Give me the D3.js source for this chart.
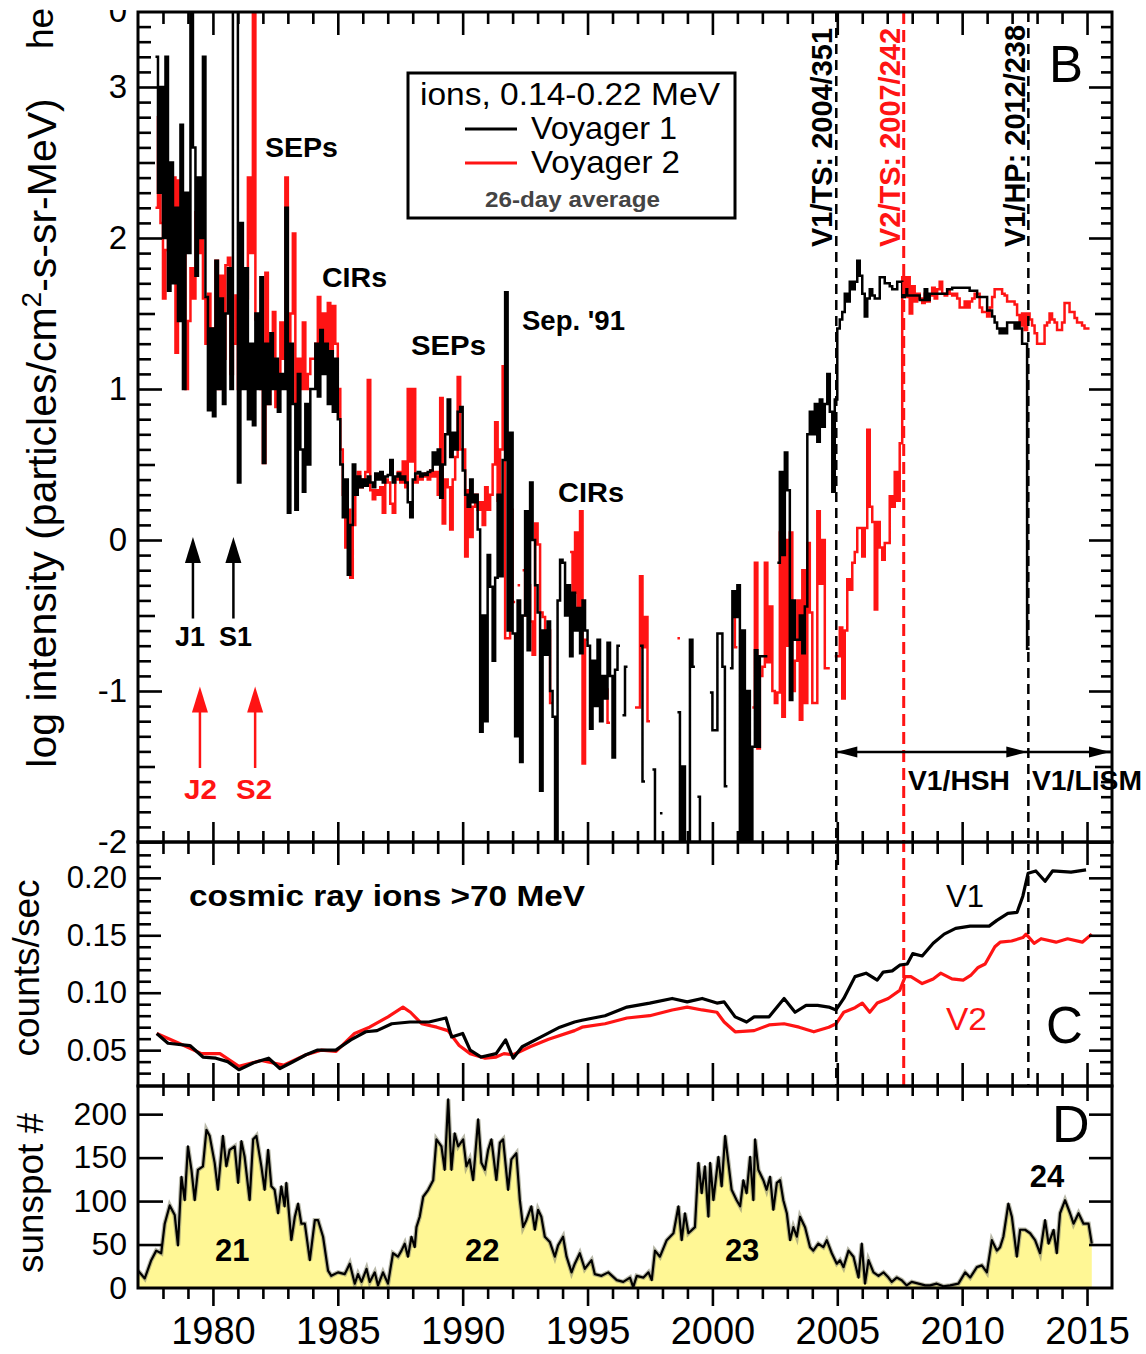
<!DOCTYPE html>
<html>
<head>
<meta charset="utf-8">
<script src="https://cdn.jsdelivr.net/npm/d3@7"></script>
<style>
  body { margin: 0; background: #fff; }
  svg { display: block; font-family: "Liberation Sans", Arial, Helvetica, sans-serif; }
</style>
</head>
<body>
<script>
// ---- panel B: ions 0.14-0.22 MeV, log intensity, 0.1-yr bins starting 1977.7 (null = no data)
var ionStart = 1977.7, ionStep = 0.1;
var ionV1 = [
  3.2, 2.3, 3.0,
  2.0, 3.2, 1.65, 2.5, 1.7, 2.2, 1.45, 2.75, 1.0, 2.3,          // 1978
  1.9, 3.8, 2.6, 1.75, 2.4, 2.0, 3.2, 1.61, 0.86, 1.4,          // 1979
  0.82, 1.85, 1.0, 1.6, 0.9, 1.5, 1.8, 1.0, 3.8, 3.6,           // 1980
  0.38, 2.1, 1.0, 1.8, 0.8, 1.3, 0.76, 1.5, 1.0, 1.74,          // 1981
  0.51, 1.3, 0.9, 1.37, 1.0, 1.2, 0.85, 1.1, 1.0, 2.2,          // 1982
  0.18, 1.3, 0.9, 0.2, 1.1, 0.6, 0.32, 0.9, 0.5, 1.0,           // 1983
  1.0, 1.3, 0.95, 1.39, 1.1, 1.3, 0.9, 1.25, 0.85, 1.2,         // 1984
  0.8, 0.5, 0.15, 0.4, -0.23, 0.1, 0.5, 0.3, 0.42, 0.35,        // 1985
  0.4, 0.36, 0.42, 0.38, 0.35, 0.44, 0.4, 0.45, 0.38, 0.42,     // 1986
  0.43, 0.53, 0.38, 0.42, 0.44, 0.4, 0.42, 0.38, 0.25, 0.15,    // 1987
  0.4, 0.44, 0.45, 0.42, 0.44, 0.43, 0.45, 0.46, 0.58, 0.5,     // 1988
  0.6, 0.28, 0.5, 0.7, 0.93, 0.55, 0.71, 0.6, 0.85, 0.88,       // 1989
  0.46, 0.3, 0.22, 0.4, 0.25, 0.3, 0.07, -1.27, -0.5, -1.2,     // 1990
  -0.1, -0.31, -0.8, -0.25, 0.3, -0.24, 0.53, 1.64, -0.6, 0.71, // 1991
  -0.62, -1.3, -0.4, -1.47, -0.5, 0.19, -0.73, 0.38, 0.0, -0.3, // 1992
  -0.48, -1.66, -0.6, -0.76, -0.54, -1.0, -1.17, -2.5, -0.4, -0.13, // 1993
  -0.15, -0.5, -0.3, -0.77, -0.35, -0.6, -0.45, -0.75, -0.4, -0.6,  // 1994
  -0.7, -1.25, -0.8, -1.1, -0.66, -1.2, -0.9, -1.05, -0.68, -0.9,   // 1995
  -1.44, -0.86, -0.7, null, -1.16, -0.84, null, null, null, null,  // 1996
  null, -0.7, -1.6, null, null, null, -1.52, -2.5, null, -1.81,    // 1997
  null, null, null, null, null, null, -1.14, -2.5, -1.5, -2.5,     // 1998
  -2.5, -0.66, -0.84, null, -1.7, -2.5, null, null, null, -1.01,   // 1999
  -1.26, -1.26, -0.62, -0.62, -0.84, -1.63, null, -0.85, -0.34, -0.51, // 2000
  -0.3, -2.5, -0.6, -2.5, -1.0, -2.5, -1.37, -0.73, -1.37, -0.77,  // 2001
  -0.77, -0.77, null, null, null, null, -0.15, 0.45, -0.1, 0.58,   // 2002
  0.33, -1.06, -0.4, -0.66, -0.66, -0.5, -0.75, -0.44, 0.7, 0.85,  // 2003
  0.7, 0.9, 0.65, 0.93, 0.75, 0.9, 1.1, 0.85, 0.32, 0.93,          // 2004
  1.40, 1.46, 1.51, 1.63, 1.58, 1.71, 1.66, 1.71, 1.85, 1.75,      // 2005
  1.63, 1.48, 1.60, 1.66, 1.62, 1.60, 1.60, 1.74, 1.74, 1.70,      // 2006
  1.70, 1.68, 1.66, 1.66, 1.71, 1.71, 1.61, 1.66, 1.62, 1.62,      // 2007
  1.62, 1.62, 1.62, 1.59, 1.59, 1.66, 1.59, 1.63, 1.63, 1.63,      // 2008
  1.63, 1.63, 1.63, 1.63, 1.66, 1.66, 1.67, 1.67, 1.67, 1.67,      // 2009
  1.67, 1.67, 1.67, 1.65, 1.65, 1.65, 1.61, 1.61, 1.61, 1.61,      // 2010
  1.52, 1.52, 1.48, 1.44, 1.40, 1.37, 1.40, 1.37, 1.44, 1.44,      // 2011
  1.44, 1.40, 1.44, 1.40, 1.30, 1.30, -0.72                        // 2012
];
var ionV2 = [
  2.2, 2.8, 2.1,
  1.6, 1.92, 2.2, 1.8, 2.4, 1.24, 2.38, 1.68, 2.1, 1.0,         // 1978
  1.45, 1.8, 1.6, 2.17, 1.9, 2.1, 1.6, 1.3, 1.63, 1.13,         // 1979
  1.4, 1.85, 1.0, 1.75, 1.2, 1.82, 1.87, 1.1, 1.3, 1.62,        // 1980
  1.0, 1.4, 1.1, 1.6, 2.4, 1.9, 3.8, 1.46, 1.2, 1.0,            // 1981
  0.51, 1.77, 0.9, 1.2, 1.51, 0.88, 1.0, 1.44, 1.2, 2.4,        // 1982
  1.0, 1.5, 2.03, 0.9, 1.2, 1.0, 1.44, 1.0, 1.1, 1.2,           // 1983
  1.2, 1.3, 1.61, 1.26, 1.5, 1.3, 1.57, 1.24, 1.55, 1.3,        // 1984
  1.0, 0.6, 0.3, -0.05, 0.2, -0.25, 0.1, 0.3, 0.45, 0.35,       // 1985
  0.4, 0.45, 1.06, 0.33, 0.27, 0.33, 0.3, 0.35, 0.18, 0.4,      // 1986
  0.38, 0.24, 0.18, 0.4, 0.45, 0.38, 0.52, 0.35, 1.0, 0.52,     // 1987
  1.0, 0.38, 0.42, 0.40, 0.42, 0.44, 0.40, 0.46, 0.42, 0.45,    // 1988
  0.3, 0.94, 0.11, 0.4, 0.35, 0.07, 0.4, 0.55, 1.08, 0.6,       // 1989
  0.6, -0.11, 0.33, 0.02, 0.22, 0.3, 0.2, 0.25, 0.1, 0.35,      // 1990
  0.2, 0.3, 0.5, 0.78, 0.26, 0.6, 1.15, -0.65, -0.65, 0.2,      // 1991
  -0.41, null, -0.3, null, -0.2, -0.5, -0.3, -0.54, -0.76, 0.11, // 1992
  -0.03, -0.48, -0.51, -0.76, -0.6, -1.08, null, null, null, null, // 1993
  null, null, null, -0.08, -0.35, 0.05, -0.54, 0.19, -1.48, -0.66, // 1994
  null, null, null, null, null, null, null, -0.99, -1.21, null,    // 1995
  null, null, null, null, null, null, null, null, null, -1.11,     // 1996
  -1.11, -0.24, -0.71, -0.51, -1.2, null, null, null, null, null,  // 1997
  null, null, null, null, null, null, -0.65, null, null, null,     // 1998
  null, null, null, null, null, null, null, null, null, null,      // 1999
  null, null, null, null, null, null, null, null, -0.51, -0.71,    // 2000
  null, null, null, null, null, null, -1.11, -0.15, -1.38, -0.9,   // 2001
  -0.84, -0.15, -0.81, -0.44, -1.0, -1.08, -1.01, 0.05, -1.17, 0.0, // 2002
  -0.7, 0.05, -1.0, -0.8, -0.4, -1.19, -0.2, -1.08, -0.02, -0.48,  // 2003
  -1.08, -1.08, 0.19, -0.29, 0.0, -0.85, -0.85, null, null, -0.77, // 2004
  -0.77, -0.58, -1.05, -0.6, -0.26, -0.33, -0.15, -0.08, 0.08, 0.08, // 2005
  -0.11, 0.08, 0.73, 0.22, 0.12, -0.46, 0.12, -0.05, -0.13, -0.02, // 2006
  -0.02, 0.29, 0.22, 0.45, 0.26, 0.64, 1.74, 1.61, 1.74, 1.5,      // 2007
  1.68, 1.58, 1.63, 1.6, 1.57, 1.63, 1.58, 1.62, 1.67, 1.60,       // 2008
  1.66, 1.71, 1.63, 1.62, 1.66, 1.63, 1.62, 1.63, 1.60, 1.54,      // 2009
  1.54, 1.58, 1.54, 1.58, 1.60, 1.63, 1.63, 1.54, 1.51, 1.51,      // 2010
  1.48, 1.54, 1.61, 1.66, 1.66, 1.66, 1.63, 1.62, 1.58, 1.58,      // 2011
  1.58, 1.56, 1.49, 1.42, 1.50, 1.39, 1.50, 1.46, 1.42, 1.37,      // 2012
  1.30, 1.30, 1.30, 1.42, 1.44, 1.5, 1.46, 1.44, 1.39, 1.39,       // 2013
  1.44, 1.57, 1.57, 1.51, 1.51, 1.47, 1.44, 1.44, 1.42, 1.40,      // 2014
  1.40
];
var ionTicks = [-2, -1, 0, 1, 2, 3];

// ---- panel C: cosmic ray ions >70 MeV (counts/sec)
var crV1Years = [1977.75,1978.20,1979.08,1979.60,1980.12,1980.59,1981.04,1981.63,1982.23,1982.68,1983.13,1983.73,1984.17,1984.92,1985.52,1986.12,1986.57,1987.16,1987.89,1988.65,1989.33,1989.56,1990.00,1990.30,1990.74,1991.34,1991.72,1992.02,1992.38,1993.14,1993.89,1994.48,1994.78,1995.70,1996.58,1997.49,1998.39,1998.99,1999.59,2000.18,2000.47,2000.91,2001.37,2001.67,2002.27,2002.87,2003.31,2003.75,2004.21,2004.66,2004.95,2005.26,2005.71,2006.15,2006.60,2006.84,2007.20,2007.50,2007.80,2008.02,2008.40,2008.84,2009.28,2009.74,2010.32,2011.08,2011.39,2011.83,2012.20,2012.43,2012.64,2012.95,2013.32,2013.62,2014.36,2014.96];
var crV1 = [0.0645,0.056,0.054,0.044,0.043,0.040,0.033,0.039,0.043,0.034,0.039,0.046,0.050,0.050,0.059,0.066,0.067,0.073,0.0745,0.0745,0.078,0.0615,0.0645,0.050,0.044,0.047,0.059,0.043,0.053,0.0615,0.070,0.0745,0.076,0.080,0.0875,0.091,0.095,0.092,0.095,0.091,0.092,0.079,0.0745,0.079,0.079,0.095,0.083,0.089,0.089,0.0875,0.085,0.095,0.114,0.117,0.111,0.118,0.119,0.124,0.125,0.134,0.132,0.143,0.151,0.156,0.158,0.158,0.163,0.169,0.170,0.184,0.204,0.206,0.197,0.206,0.205,0.207];
var crV2Years = [1977.75,1978.64,1979.54,1980.28,1981.04,1981.93,1982.83,1983.73,1984.33,1984.93,1985.67,1986.27,1987.01,1987.61,1987.91,1988.36,1988.96,1989.41,1989.86,1990.30,1990.90,1991.34,1991.65,1992.02,1992.70,1993.44,1994.48,1994.78,1995.70,1996.58,1997.49,1998.39,1998.99,1999.59,2000.18,2000.47,2000.91,2001.67,2002.27,2002.87,2003.47,2004.06,2004.66,2004.95,2005.26,2005.71,2006.00,2006.30,2006.60,2007.04,2007.50,2007.72,2007.95,2008.40,2008.84,2009.14,2009.59,2010.04,2010.34,2010.64,2010.92,2011.31,2011.52,2011.98,2012.43,2012.56,2012.88,2013.16,2013.76,2014.22,2014.81,2015.19];
var crV2 = [0.0645,0.056,0.047,0.047,0.036,0.041,0.037,0.046,0.050,0.049,0.0645,0.070,0.079,0.0875,0.083,0.073,0.070,0.067,0.054,0.047,0.043,0.044,0.047,0.046,0.053,0.0595,0.067,0.070,0.073,0.078,0.080,0.085,0.0875,0.085,0.083,0.0745,0.066,0.067,0.072,0.073,0.070,0.066,0.070,0.073,0.083,0.087,0.091,0.083,0.091,0.095,0.102,0.114,0.114,0.108,0.112,0.117,0.112,0.111,0.115,0.122,0.125,0.140,0.144,0.145,0.148,0.151,0.143,0.147,0.144,0.147,0.144,0.151];
var crTicks = [0.05, 0.10, 0.15, 0.20];

// ---- panel D: monthly sunspot number
var ssYears = [
  1977.00,1977.27,1977.53,1977.73,1977.93,
  1978.07,1978.27,1978.47,1978.60,1978.74,1978.87,
  1979.00,1979.14,1979.27,1979.40,1979.60,1979.74,1979.87,
  1980.07,1980.20,1980.40,1980.54,1980.67,1980.87,
  1981.01,1981.14,1981.27,1981.47,1981.61,1981.74,1981.94,
  1982.07,1982.21,1982.34,1982.47,1982.61,1982.74,1982.87,1982.94,
  1983.14,1983.28,1983.41,1983.54,1983.68,1983.88,
  1984.08,1984.21,1984.41,1984.61,1984.74,
  1985.01,1985.28,1985.48,1985.68,1985.81,1985.95,
  1986.15,1986.28,1986.48,1986.61,1986.81,
  1987.01,1987.21,1987.41,1987.55,1987.68,1987.81,1987.95,
  1988.08,1988.15,1988.28,1988.42,1988.62,1988.82,1988.95,
  1989.15,1989.28,1989.42,1989.55,1989.68,1989.82,
  1990.02,1990.15,1990.28,1990.42,1990.62,1990.75,1990.89,
  1991.02,1991.15,1991.35,1991.49,1991.62,1991.82,1991.95,
  1992.15,1992.29,1992.42,1992.55,1992.75,1992.89,
  1993.02,1993.15,1993.29,1993.49,1993.69,1993.82,
  1994.02,1994.16,1994.36,1994.49,1994.69,1994.89,
  1995.16,1995.29,1995.56,1995.83,
  1996.17,1996.43,1996.70,1996.83,1996.97,
  1997.24,1997.44,1997.57,1997.70,1997.90,
  1998.17,1998.44,1998.64,1998.77,1998.90,
  1999.04,1999.30,1999.44,1999.57,1999.70,1999.84,1999.91,
  2000.04,2000.24,2000.37,2000.51,2000.64,2000.77,2000.97,
  2001.11,2001.24,2001.37,2001.51,2001.64,2001.71,2001.84,
  2002.04,2002.17,2002.31,2002.44,2002.58,2002.71,2002.84,2002.98,
  2003.11,2003.24,2003.38,2003.51,2003.71,2003.91,
  2004.04,2004.24,2004.44,2004.58,2004.78,2004.98,
  2005.11,2005.25,2005.45,2005.65,2005.85,2005.98,
  2006.11,2006.25,2006.45,2006.65,2006.85,
  2007.05,2007.18,2007.38,2007.58,2007.78,2007.98,
  2008.25,2008.52,2008.72,2008.98,
  2009.25,2009.52,2009.85,
  2010.12,2010.32,2010.59,2010.79,2010.99,
  2011.19,2011.39,2011.52,2011.65,2011.85,2011.99,
  2012.19,2012.32,2012.52,2012.72,2012.92,
  2013.12,2013.32,2013.46,2013.66,2013.79,2013.92,
  2014.12,2014.32,2014.46,2014.66,2014.86,
  2015.06,2015.19
];
var ssNum = [
  20,11,32,43,40,
  74,95,84,49,128,101,
  163,136,101,136,140,182,175,
  144,113,175,140,159,163,
  121,169,151,101,171,175,140,
  113,159,117,113,86,117,94,121,
  55,82,97,74,74,32,
  78,78,59,20,14,
  18,16,28,5,16,7,
  22,7,18,3,18,
  5,40,36,43,51,36,59,
  47,70,82,105,113,124,171,
  163,136,217,136,178,163,
  171,140,148,124,194,144,136,
  159,171,124,167,171,113,148,
  155,101,70,78,94,67,
  90,82,59,53,36,49,
  59,36,18,28,40,22,
  32,16,14,18,
  9,7,12,1,14,
  12,18,9,43,36,
  55,63,94,55,86,
  63,70,144,109,140,82,144,
  101,151,117,175,144,113,101,
  94,124,109,151,101,171,136,
  124,113,128,90,121,124,101,86,
  55,70,59,82,70,47,
  43,51,47,55,40,28,
  32,24,43,36,12,51,
  5,32,18,14,18,
  12,7,12,9,3,7,
  5,3,3,5,
  2,3,5,
  18,12,24,26,18,
  55,43,47,59,97,82,
  36,67,67,63,55,
  40,78,51,67,40,86,
  101,86,74,86,74,
  74,51
];
var ssTicks = [0, 50, 100, 150, 200];
var cycles = [{n: '21', yr: 1980.77, v: 45}, {n: '22', yr: 1990.78, v: 45}, {n: '23', yr: 2001.19, v: 45}, {n: '24', yr: 2013.4, v: 130}];

// boundary crossings
var crossings = [
  {yr: 2004.96, label: 'V1/TS: 2004/351', color: '#000', dash: '10,6', w: 2.5},
  {yr: 2007.66, label: 'V2/TS: 2007/242', color: '#ff1414', dash: '12,6', w: 3},
  {yr: 2012.65, label: 'V1/HP: 2012/238', color: '#000', dash: '10,6', w: 2.5}
];
var yearLabels = [1980, 1985, 1990, 1995, 2000, 2005, 2010, 2015];

var RED = '#ff1414';
var W = 1146, H = 1354, L = 138, R = 1112;
var svg = d3.select('body').append('svg').attr('width', W).attr('height', H);

var x = d3.scaleLinear().domain([1977, 2016]).range([L, R]);
var yB = d3.scaleLinear().domain([-2, 3.5]).range([842, 11.5]);
var yC = d3.scaleLinear().domain([0.0188, 0.2312]).range([1086, 842]);
var yD = d3.scaleLinear().domain([0, 232.4]).range([1288, 1086]);

var defs = svg.append('defs');
[['clipB', 12, 842], ['clipC', 842, 1086], ['clipD', 1086, 1288], ['clipTop', 10, 60]].forEach(function(c) {
  defs.append('clipPath').attr('id', c[0]).append('rect')
    .attr('x', c[0] == 'clipTop' ? 0 : L).attr('y', c[1])
    .attr('width', c[0] == 'clipTop' ? W : R - L).attr('height', c[2] - c[1]);
});

// ---------- panel D fill (under everything)
var ss = ssYears.map(function(y, i) { return [y, ssNum[i]]; });
var gD = svg.append('g').attr('clip-path', 'url(#clipD)');
gD.append('path').datum(ss)
  .attr('d', d3.area().x(function(d) { return x(d[0]); }).y0(yD(0)).y1(function(d) { return yD(d[1]); }))
  .attr('fill', '#fff795');
gD.append('path').datum(ss)
  .attr('d', d3.line().x(function(d) { return x(d[0]); }).y(function(d) { return yD(d[1]); }))
  .attr('fill', 'none').attr('stroke', '#8a8a70').attr('stroke-width', 4.5).attr('stroke-opacity', 0.6);
gD.append('path').datum(ss)
  .attr('d', d3.line().x(function(d) { return x(d[0]); }).y(function(d) { return yD(d[1]); }))
  .attr('fill', 'none').attr('stroke', '#000').attr('stroke-width', 2.2).attr('stroke-linejoin', 'round');

// ---------- panel B data (step lines with gaps)
function stepPath(vals) {
  var d = '', open = false;
  vals.forEach(function(v, i) {
    if (v === null) { open = false; return; }
    var x0 = x(ionStart + i * ionStep), x1 = x(ionStart + (i + 1) * ionStep), yy = yB(v);
    d += (open ? 'V' + yy : 'M' + x0 + ',' + yy) + 'H' + x1;
    open = true;
  });
  return d;
}
var gB = svg.append('g').attr('clip-path', 'url(#clipB)');
gB.append('path').attr('d', stepPath(ionV2)).attr('fill', 'none').attr('stroke', RED).attr('stroke-width', 2.5);
gB.append('path').attr('d', stepPath(ionV1)).attr('fill', 'none').attr('stroke', '#000').attr('stroke-width', 2.5);

// ---------- panel C data
var gC = svg.append('g').attr('clip-path', 'url(#clipC)');
var crLine = d3.line().x(function(d) { return x(d[0]); }).y(function(d) { return yC(d[1]); });
[[crV2Years, crV2, RED], [crV1Years, crV1, '#000']].forEach(function(s) {
  gC.append('path').datum(s[0].map(function(y, i) { return [y, s[1][i]]; }))
    .attr('d', crLine).attr('fill', 'none').attr('stroke', s[2]).attr('stroke-width', 3.2)
    .attr('stroke-linejoin', 'round');
});

// ---------- boundary dashed lines
crossings.forEach(function(c) {
  svg.append('line').attr('x1', x(c.yr)).attr('x2', x(c.yr)).attr('y1', 12).attr('y2', 1086)
    .attr('stroke', c.color).attr('stroke-width', c.w).attr('stroke-dasharray', c.dash);
});

// ---------- ticks
function tickSet(axis, scale, vals, size, tx, ty) {
  svg.append('g').attr('transform', 'translate(' + tx + ',' + ty + ')')
    .call(axis(scale).tickValues(vals).tickSize(size).tickFormat(''))
    .call(function(g) {
      g.select('.domain').remove();
      g.selectAll('line').attr('stroke-width', 2.6);
    });
}
var yrMajor = d3.range(1980, 2016, 5);
var yrMinor = d3.range(1978, 2016).filter(function(y) { return y % 5 !== 0; });
[[d3.axisBottom, 12, 12, 23], [d3.axisTop, 842, 11, 20], [d3.axisBottom, 842, 12, 23],
 [d3.axisTop, 1086, 13, 23], [d3.axisBottom, 1086, 10, 15], [d3.axisBottom, 1288, 11, 18]].forEach(function(t) {
  tickSet(t[0], x, yrMinor, t[2], 0, t[1]);
  tickSet(t[0], x, yrMajor, t[3], 0, t[1]);
});

var bMinor = d3.range(-19, 35).filter(function(i) { return i % 5 !== 0; }).map(function(i) { return i / 10; });
var bMid = [-1.5, -0.5, 0.5, 1.5, 2.5];
tickSet(d3.axisRight, yB, bMinor, 13, L, 0);
tickSet(d3.axisRight, yB, bMid, 17, L, 0);
tickSet(d3.axisRight, yB, ionTicks, 24, L, 0);
tickSet(d3.axisLeft, yB, bMinor, 11, R, 0);
tickSet(d3.axisLeft, yB, bMid, 17, R, 0);
tickSet(d3.axisLeft, yB, ionTicks, 23, R, 0);

var cMinor = d3.range(3, 23).filter(function(i) { return i % 5 !== 0; }).map(function(i) { return i / 100; });
tickSet(d3.axisRight, yC, cMinor, 13, L, 0);
tickSet(d3.axisRight, yC, crTicks, 23, L, 0);
tickSet(d3.axisLeft, yC, cMinor, 12, R, 0);
tickSet(d3.axisLeft, yC, crTicks, 23, R, 0);

tickSet(d3.axisRight, yD, ssTicks.slice(1), 25, L, 0);
tickSet(d3.axisLeft, yD, ssTicks.slice(1), 23, R, 0);

// ---------- frames
[[12, 842], [842, 1086], [1086, 1288]].forEach(function(f) {
  svg.append('rect').attr('x', L).attr('y', f[0]).attr('width', R - L).attr('height', f[1] - f[0])
    .attr('fill', 'none').attr('stroke', '#000').attr('stroke-width', 3);
});

// ---------- tick labels
function labels(axis, scale, vals, fmt, size, tx, ty, pad) {
  svg.append('g').attr('transform', 'translate(' + tx + ',' + ty + ')')
    .call(axis(scale).tickValues(vals).tickSize(0).tickPadding(pad).tickFormat(fmt))
    .call(function(g) {
      g.select('.domain').remove();
      g.attr('font-family', null).attr('font-size', size);
    });
}
labels(d3.axisLeft, yB, ionTicks, function(d) { return String(d); }, 33, L, 0, 11);
labels(d3.axisLeft, yC, crTicks, d3.format('.2f'), 31, L, 0, 11);
labels(d3.axisLeft, yD, ssTicks, d3.format('d'), 32, L, 0, 11);
labels(d3.axisBottom, x, yearLabels, d3.format('d'), 38, 0, 1288, 29);

// cropped leftovers of the panel above
svg.append('g').attr('clip-path', 'url(#clipTop)').append('text')
  .attr('x', 127).attr('y', 22).attr('text-anchor', 'end').attr('font-size', 33).text('0');
svg.append('text').attr('transform', 'translate(53,49) rotate(-90)').attr('font-size', 37).text('he');

// ---------- text helpers
function txt(px, py, s, size, o) {
  o = o || {};
  var t = svg.append('text').attr('x', px).attr('y', py).attr('font-size', size)
    .attr('fill', o.fill || '#000').attr('font-weight', o.bold ? 'bold' : null)
    .attr('text-anchor', o.anchor || 'start').text(s);
  if (o.len) t.attr('textLength', o.len).attr('lengthAdjust', 'spacingAndGlyphs');
  return t;
}
function vtxt(px, py, s, size, o) {
  o = o || {};
  var t = svg.append('text').attr('transform', 'translate(' + px + ',' + py + ') rotate(-90)')
    .attr('font-size', size).attr('fill', o.fill || '#000')
    .attr('font-weight', o.bold ? 'bold' : null).attr('text-anchor', o.anchor || 'start');
  if (o.len) t.attr('textLength', o.len).attr('lengthAdjust', 'spacingAndGlyphs');
  return t;
}

// axis titles
var tB = vtxt(56, 433, '', 41, {anchor: 'middle'});
tB.append('tspan').text('log intensity (particles/cm');
tB.append('tspan').attr('dy', -15).attr('font-size', 28).text('2');
tB.append('tspan').attr('dy', 15).text('-s-sr-MeV)');
vtxt(39, 968, '', 37, {anchor: 'middle', len: 177}).text('counts/sec');
vtxt(43, 1193, '', 37, {anchor: 'middle', len: 160}).text('sunspot #');

// panel B annotations
txt(265, 157, 'SEPs', 28, {bold: true, len: 73});
txt(322, 287, 'CIRs', 28, {bold: true, len: 65});
txt(411, 355, 'SEPs', 28, {bold: true, len: 75});
txt(522, 330, "Sep. '91", 28, {bold: true, len: 103});
txt(558, 502, 'CIRs', 28, {bold: true, len: 66});
txt(1049, 82, 'B', 51);
txt(1046, 1043, 'C', 51);
txt(1052, 1142, 'D', 52);

// legend
svg.append('rect').attr('x', 408).attr('y', 73).attr('width', 327).attr('height', 145)
  .attr('fill', '#fff').attr('stroke', '#000').attr('stroke-width', 3);
txt(420, 105, 'ions, 0.14-0.22 MeV', 31, {len: 300});
svg.append('line').attr('x1', 465).attr('x2', 517).attr('y1', 129).attr('y2', 129).attr('stroke', '#000').attr('stroke-width', 3);
svg.append('line').attr('x1', 465).attr('x2', 517).attr('y1', 163).attr('y2', 163).attr('stroke', RED).attr('stroke-width', 3);
txt(531, 139, 'Voyager 1', 32, {len: 146});
txt(531, 173, 'Voyager 2', 32, {len: 149});
txt(485, 207, '26-day average', 22, {bold: true, fill: '#444', len: 175});

// crossing labels
vtxt(x(crossings[0].yr) - 4, 247, '', 29, {bold: true, len: 219}).text(crossings[0].label);
vtxt(x(crossings[1].yr) - 4, 247, '', 29, {bold: true, len: 219, fill: RED}).text(crossings[1].label);
vtxt(x(crossings[2].yr) - 3, 247, '', 29, {bold: true, len: 222}).text(crossings[2].label);

// planetary encounter arrows
function arrow(xx, v0, v1, color) {
  var x0 = x(xx), ya = yB(v0), yt = yB(v1);
  svg.append('line').attr('x1', x0).attr('x2', x0).attr('y1', ya).attr('y2', yt + 20)
    .attr('stroke', color).attr('stroke-width', 2.5);
  svg.append('path').attr('d', 'M' + x0 + ',' + yt + 'L' + (x0 - 8) + ',' + (yt + 26) + 'L' + (x0 + 8) + ',' + (yt + 26) + 'Z')
    .attr('fill', color);
}
arrow(1979.2, -0.52, 0.02, '#000');
arrow(1980.82, -0.52, 0.02, '#000');
arrow(1979.48, -1.51, -0.97, RED);
arrow(1981.69, -1.51, -0.97, RED);
txt(175, 646, 'J1', 28, {bold: true, len: 30});
txt(219, 646, 'S1', 28, {bold: true, len: 33});
txt(184, 799, 'J2', 28, {fill: RED, bold: true, len: 33});
txt(236, 799, 'S2', 28, {fill: RED, bold: true, len: 36});

// heliosheath / LISM arrows
var ya = yB(-1.404);
svg.append('line').attr('x1', x(2004.96)).attr('x2', R - 1).attr('y1', ya).attr('y2', ya)
  .attr('stroke', '#000').attr('stroke-width', 2.6);
function head(tip, dir) {
  svg.append('path').attr('d', 'M' + tip + ',' + ya + 'L' + (tip - dir * 21) + ',' + (ya - 5.5) + 'L' + (tip - dir * 21) + ',' + (ya + 5.5) + 'Z')
    .attr('fill', '#000');
}
head(x(2004.96), -1);
head(x(2012.65) - 1, 1);
head(R - 2, 1);
txt(908, 790, 'V1/HSH', 28, {bold: true, len: 102});
txt(1032, 790, 'V1/LISM', 28, {bold: true, len: 110});

// panel C annotations
txt(189, 906, 'cosmic ray ions >70 MeV', 30, {bold: true, len: 396});
txt(946, 907, 'V1', 32, {len: 38});
txt(946, 1030, 'V2', 32, {fill: RED, len: 41});

// panel D cycle numbers
cycles.forEach(function(c) {
  txt(x(c.yr), yD(c.v) + 12, c.n, 31, {anchor: 'middle', bold: true});
});
</script>
</body>
</html>
